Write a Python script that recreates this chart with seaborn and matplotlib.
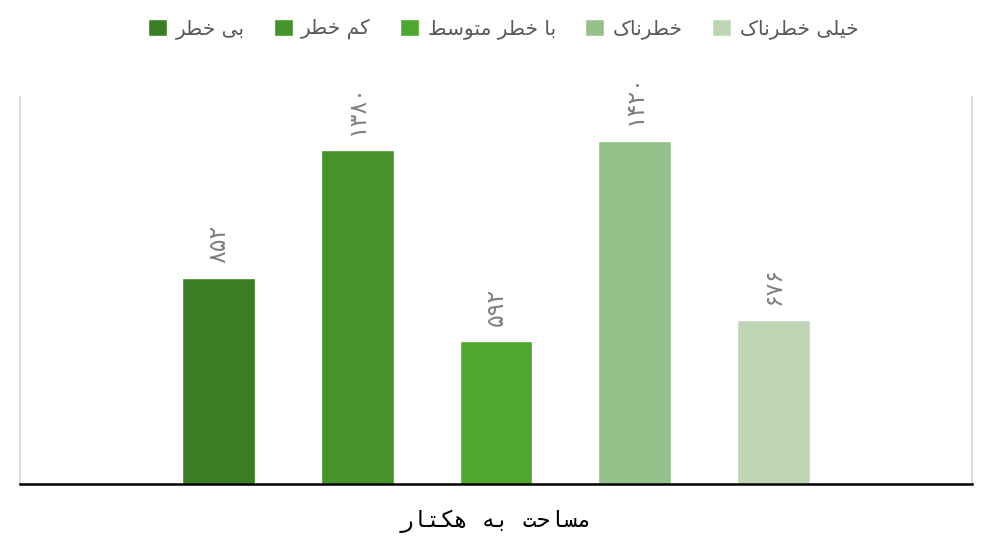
import matplotlib
matplotlib.use("Agg")
import matplotlib.pyplot as plt
import seaborn as sns
import pandas as pd

# ---- data ----
categories = ["بی خطر", "کم خطر", "با خطر متوسط", "خطرناک", "خیلی خطرناک"]
values = [852, 1380, 592, 1420, 676]
colors = ["#3A7D22", "#45932A", "#4EA72E", "#95C18A", "#BFD6B6"]
xlabel_text = "مساحت به هکتار"

# ---- minimal Arabic/Persian shaping (presentation forms) ----
FORMS = {
    "ب": ("\uFE8F", "\uFE90", "\uFE91", "\uFE92"),
    "ی": ("\uFBFC", "\uFBFD", "\uFBFE", "\uFBFF"),
    "خ": ("\uFEA5", "\uFEA6", "\uFEA7", "\uFEA8"),
    "ط": ("\uFEC1", "\uFEC2", "\uFEC3", "\uFEC4"),
    "ر": ("\uFEAD", "\uFEAE", None, None),
    "ک": ("\uFB8E", "\uFB8F", "\uFB90", "\uFB91"),
    "م": ("\uFEE1", "\uFEE2", "\uFEE3", "\uFEE4"),
    "ا": ("\uFE8D", "\uFE8E", None, None),
    "ت": ("\uFE95", "\uFE96", "\uFE97", "\uFE98"),
    "و": ("\uFEED", "\uFEEE", None, None),
    "س": ("\uFEB1", "\uFEB2", "\uFEB3", "\uFEB4"),
    "ن": ("\uFEE5", "\uFEE6", "\uFEE7", "\uFEE8"),
    "ل": ("\uFEDD", "\uFEDE", "\uFEDF", "\uFEE0"),
    "ح": ("\uFEA1", "\uFEA2", "\uFEA3", "\uFEA4"),
    "ه": ("\uFEE9", "\uFEEA", "\uFEEB", "\uFEEC"),
}


def dual(c):
    return c in FORMS and FORMS[c][2] is not None


def shape(text):
    out = []
    n = len(text)
    for i, c in enumerate(text):
        if c not in FORMS:
            out.append(c)
            continue
        prev = text[i - 1] if i > 0 else ""
        nxt = text[i + 1] if i < n - 1 else ""
        cp = dual(prev)
        cn = dual(c) and nxt in FORMS
        iso, fin, ini, med = FORMS[c]
        if cp and cn:
            out.append(med)
        elif cp:
            out.append(fin)
        elif cn:
            out.append(ini)
        else:
            out.append(iso)
    return "".join(reversed(out))


def fa_digits(v):
    return str(v).translate(str.maketrans("0123456789", "۰۱۲۳۴۵۶۷۸۹"))


# ---- plot ----
sns.set_style("white")
plt.rcParams["font.family"] = ["DejaVu Sans"]

df = pd.DataFrame({"cat": categories, "val": values})

fig = plt.figure(figsize=(10.06, 5.57), dpi=100)
ax = fig.add_axes([20 / 1006, 1 - 484 / 557, 952 / 1006, 387 / 557])

sns.barplot(data=df, x="cat", y="val", hue="cat", order=categories,
            hue_order=categories, palette=colors, width=0.525,
            dodge=False, saturation=1, legend=True, ax=ax)

for cont, v in zip(ax.containers, values):
    ax.bar_label(cont, labels=[fa_digits(v)], rotation=90, padding=11,
                 fontsize=17, color="#808080")

ax.set_ylim(0, 1600)
ax.set_xlim(-1.428, 5.428)
ax.set_xticks([])
ax.set_yticks([])
ax.set_xlabel("")
ax.set_ylabel("")

for s in ["left", "right"]:
    ax.spines[s].set_color("#D9D9D9")
    ax.spines[s].set_linewidth(1.3)
ax.spines["top"].set_visible(False)
ax.spines["bottom"].set_color("black")
ax.spines["bottom"].set_linewidth(1.8)

handles, _ = ax.get_legend_handles_labels()
ax.legend(handles, [shape(c) for c in categories], ncol=5,
          loc="center", bbox_to_anchor=(0.5, 1 - 29 / 557),
          bbox_transform=fig.transFigure, frameon=False,
          fontsize=14.5, handlelength=0.95, handleheight=0.95,
          handletextpad=0.42, columnspacing=1.45, labelcolor="#595959")

fig.text(496 / 1006, 1 - 521 / 557, shape(xlabel_text), ha="center",
         va="center", fontsize=16.5, family=["DejaVu Sans Mono", "DejaVu Sans"],
         color="black")

fig.savefig("out.png", dpi=100)
